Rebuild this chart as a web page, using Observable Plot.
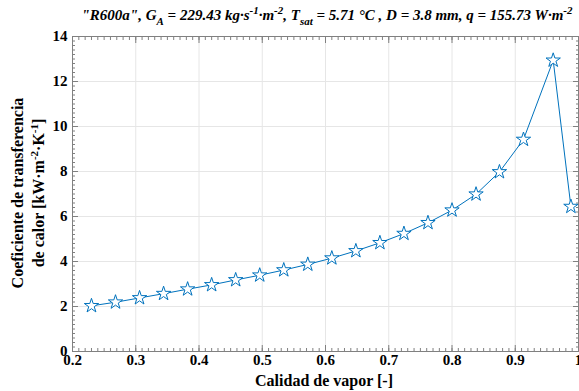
<!DOCTYPE html>
<html><head><meta charset="utf-8">
<script src="https://cdn.jsdelivr.net/npm/d3@7"></script>
<script src="https://cdn.jsdelivr.net/npm/@observablehq/plot@0.6"></script>
<style>body{margin:0;background:#fff} svg text{font-family:"Liberation Serif","Times New Roman",serif}</style>
</head><body><div id="chart"></div>
<script>
const quality = [0.23,0.268,0.306,0.344,0.382,0.42,0.458,0.496,0.534,0.572,0.61,0.648,0.686,0.724,0.762,0.80,0.838,0.875,0.913,0.96,0.988];
const htc = [2.03,2.19,2.38,2.57,2.77,2.96,3.18,3.39,3.62,3.87,4.15,4.47,4.83,5.24,5.72,6.28,6.99,7.98,9.42,12.94,6.44];
const xTicks = [0.2,0.3,0.4,0.5,0.6,0.7,0.8,0.9,1];
const yTicks = [0,2,4,6,8,10,12,14];
const xMinor = d3.range(20,101).map(d=>d/100);
const yMinor = d3.range(0,71).map(d=>d/5);
const data = quality.map((x,i)=>({x, y: htc[i]}));

const font = "Liberation Serif";
const blue = "#0072BD";
const axisColor = "#808080";

const plot = Plot.plot({
  width: 579, height: 391,
  marginLeft: 72, marginRight: 1, marginTop: 36, marginBottom: 40,
  style: {fontFamily: font, fontSize: "15px", fontWeight: "bold", color: "#000", background: "#fff"},
  x: {domain: [0.2, 1], label: null},
  y: {domain: [0, 14], label: null},
  marks: [
    Plot.gridX(xTicks, {stroke: "#e6e6e6", strokeOpacity: 1}),
    Plot.gridY(yTicks, {stroke: "#e6e6e6", strokeOpacity: 1}),
    Plot.axisX(xMinor, {anchor: "bottom", tickSize: -3, tickFormat: null, stroke: axisColor, text: null}),
    Plot.axisX(xMinor, {anchor: "top", tickSize: -3, tickFormat: null, stroke: axisColor, text: null}),
    Plot.axisY(yMinor, {anchor: "left", tickSize: -3, tickFormat: null, stroke: axisColor, text: null}),
    Plot.axisY(yMinor, {anchor: "right", tickSize: -3, tickFormat: null, stroke: axisColor, text: null}),
    Plot.axisX(xTicks, {anchor: "bottom", tickSize: -6, stroke: axisColor, text: null}),
    Plot.axisX(xTicks, {anchor: "top", tickSize: -6, stroke: axisColor, text: null}),
    Plot.axisY(yTicks, {anchor: "left", tickSize: -6, stroke: axisColor, text: null}),
    Plot.axisY(yTicks, {anchor: "right", tickSize: -6, stroke: axisColor, text: null}),
    Plot.axisX(xTicks, {anchor: "bottom", tickSize: 0, tickPadding: 3, tickFormat: d => d === 1 ? "1" : d.toFixed(1), fill: "#000", fontWeight: "bold", fontSize: 15, fontFamily: font}),
    Plot.axisY(yTicks, {anchor: "left", tickSize: 0, tickPadding: 5, tickFormat: d => String(d), fill: "#000", fontWeight: "bold", fontSize: 15, fontFamily: font}),
    Plot.frame({stroke: axisColor}),
    Plot.line(data, {x: "x", y: "y", stroke: blue, strokeWidth: 1}),
    Plot.dot(data, {x: "x", y: "y", symbol: "star", r: 4.5, stroke: blue, fill: "white", strokeWidth: 1})
  ]
});
document.getElementById("chart").appendChild(plot);

const svg = d3.select(plot);
// Title
const t = svg.append("text").attr("x", 327).attr("y", 20).attr("text-anchor", "middle")
  .attr("font-family", font).attr("font-size", 15).attr("font-weight", "bold").attr("font-style", "italic").attr("fill", "#000");
function seg(el, txt, kind) {
  if (!kind) { el.append("tspan").text(txt); return; }
  const dy = kind === "sup" ? -6 : 5;
  el.append("tspan").attr("dy", dy).attr("font-size", 11).text(txt);
  el.append("tspan").attr("dy", -dy).text("\u200B");
}
[["\"R600a\", G"],["A","sub"],[" = 229.43 kg·s"],["-1","sup"],["·m"],["-2","sup"],[", T"],["sat","sub"],[" = 5.71 °C , D = 3.8 mm, q = 155.73 W·m"],["-2","sup"]]
  .forEach(([s,k]) => seg(t, s, k));

// X label
svg.append("text").attr("x", 324).attr("y", 386).attr("text-anchor", "middle")
  .attr("font-family", font).attr("font-size", 16).attr("font-weight", "bold").attr("fill", "#000")
  .text("Calidad de vapor [-]");

// Y label
svg.append("text").attr("transform", "translate(23,193) rotate(-90)").attr("text-anchor", "middle")
  .attr("font-family", font).attr("font-size", 16).attr("font-weight", "bold").attr("fill", "#000")
  .text("Coeficiente de transferencia");
const yl2 = svg.append("text").attr("transform", "translate(44,193) rotate(-90)").attr("text-anchor", "middle")
  .attr("font-family", font).attr("font-size", 16).attr("font-weight", "bold").attr("fill", "#000");
[["de calor [kW·m"],["-2","sup"],["·K"],["-1","sup"],["]"]].forEach(([s,k]) => seg(yl2, s, k));
</script></body></html>
